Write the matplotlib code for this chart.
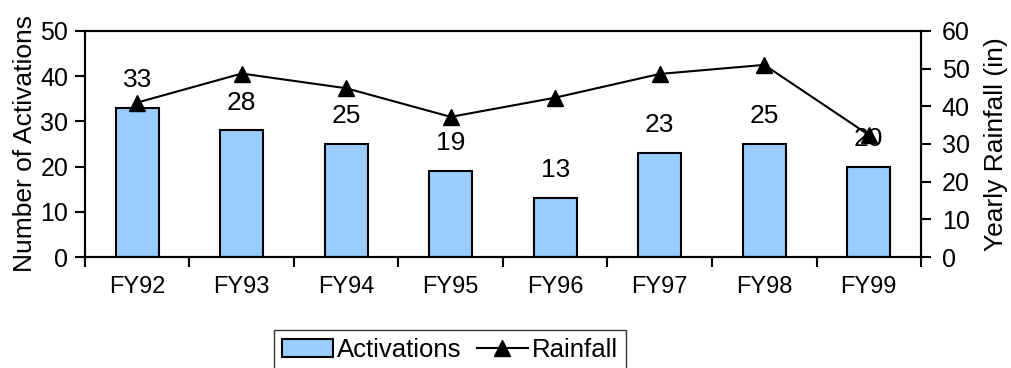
import matplotlib
matplotlib.use("Agg")
import matplotlib.pyplot as plt
from matplotlib.patches import Patch
from matplotlib.lines import Line2D

plt.rcParams['font.family'] = ['Liberation Sans', 'DejaVu Sans']
plt.rcParams['font.size'] = 17

years = ["FY92", "FY93", "FY94", "FY95", "FY96", "FY97", "FY98", "FY99"]
activations = [33, 28, 25, 19, 13, 23, 25, 20]
rainfall = [41, 48.7, 44.8, 37.2, 42.3, 48.6, 51, 32.4]

fig = plt.figure(figsize=(10.11, 3.68), dpi=100)
ax = fig.add_axes([0.084, 0.3016, 0.827, 0.6142])
ax2 = ax.twinx()

x = list(range(len(years)))
ax.bar(x, activations, width=0.41, color='#99ccff', edgecolor='black', linewidth=1.5, zorder=2)
for xi, v in zip(x, activations):
    ax.annotate(str(v), (xi, v), xytext=(0, 20), textcoords='offset points',
                ha='center', va='center', fontsize=19)

ax2.plot(x, rainfall, color='black', linewidth=1.5, marker='^', markersize=11, zorder=3)

ax.set_xlim(-0.5, len(years) - 0.5)
ax.set_ylim(0, 50)
ax2.set_ylim(0, 60)
ax.set_yticks(range(0, 51, 10))
ax2.set_yticks(range(0, 61, 10))

# category boundary ticks outward, labels at centers
ax.set_xticks([i - 0.5 for i in range(len(years) + 1)])
ax.set_xticklabels([])
ax.set_xticks(x, minor=True)
ax.set_xticklabels(years, minor=True)
ax.tick_params(axis='x', which='major', direction='out', length=7, width=1.5)
ax.tick_params(axis='x', which='minor', direction='in', length=5, width=1.5, pad=14)
ax.tick_params(axis='y', direction='out', length=7, width=1.5, labelsize=18, pad=5)
ax2.tick_params(axis='y', direction='out', length=7, width=1.5, labelsize=18, pad=8)

for a in (ax, ax2):
    for s in a.spines.values():
        s.set_linewidth(1.5)

ax.set_ylabel("Number of Activations", fontsize=19, labelpad=2)
ax2.set_ylabel("Yearly Rainfall (in)", fontsize=19, labelpad=10)

handles = [Patch(facecolor='#99ccff', edgecolor='black', linewidth=1.5),
           Line2D([], [], color='black', linewidth=1.5, marker='^', markersize=11)]
leg = fig.legend(handles, ["Activations", "Rainfall"], ncol=2, loc='upper center',
                 bbox_to_anchor=(0.445, 0.103), frameon=True, fancybox=False,
                 handlelength=2.0, handletextpad=0.15, columnspacing=0.6,
                 borderpad=0.3, borderaxespad=0, fontsize=18.5)
leg.get_frame().set_edgecolor('black')
leg.get_frame().set_linewidth(1.0)

fig.savefig("out.png", dpi=100)
